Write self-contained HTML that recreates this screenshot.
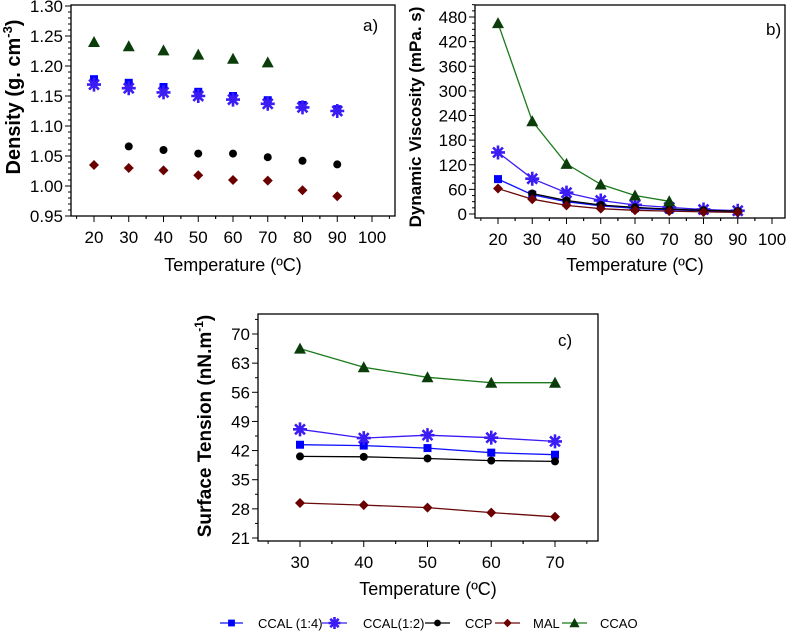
<!DOCTYPE html>
<html><head><meta charset="utf-8"><style>
html,body{margin:0;padding:0;background:#fff;}
svg{display:block;font-family:"Liberation Sans",Arial,sans-serif;}
</style></head><body>
<svg id="fig" width="798" height="633" viewBox="0 0 798 633" xmlns="http://www.w3.org/2000/svg"></svg>
<script>
// ---------- Data ----------
const seriesNames = ["CCAL (1:4)", "CCAL(1:2)", "CCP", "MAL", "CCAO"];
const tempsAB = [20, 30, 40, 50, 60, 70, 80, 90];
const tempsC = [30, 40, 50, 60, 70];
// panel a: density
const densCCAL14 = [1.178, 1.172, 1.165, 1.157, 1.150, 1.143, 1.135, 1.128];
const densCCAL12 = [1.169, 1.163, 1.156, 1.150, 1.144, 1.137, 1.131, 1.125];
const densCCP = [null, 1.066, 1.060, 1.054, 1.054, 1.048, 1.042, 1.036];
const densMAL = [1.035, 1.030, 1.026, 1.018, 1.010, 1.009, 0.993, 0.983];
const densCCAO = [1.240, 1.233, 1.226, 1.219, 1.212, 1.206, null, null];
// panel b: viscosity
const viscCCAL14 = [85, 47, 30, 20, 14, 10, 8, 6];
const viscCCAL12 = [150, 86, 52, 33, 22, 16, 11, 8];
const viscCCP = [null, 50, 33, 22, 16, 12, 9, 7];
const viscMAL = [62, 36, 21, 13, 9, 7, 5, 4];
const viscCCAO = [465, 226, 122, 72, 45, 31, null, null];
// panel c: surface tension
const stCCAL14 = [43.4, 43.2, 42.6, 41.5, 41.0];
const stCCAL12 = [47.1, 45.0, 45.7, 45.1, 44.2];
const stCCP = [40.6, 40.5, 40.1, 39.6, 39.4];
const stMAL = [29.4, 28.9, 28.3, 27.1, 26.1];
const stCCAO = [66.5, 62.0, 59.6, 58.3, 58.3];
// ticks
const xTicksAB = [20, 30, 40, 50, 60, 70, 80, 90, 100];
const yTicksA = [0.95, 1.00, 1.05, 1.10, 1.15, 1.20, 1.25, 1.30];
const yTicksB = [0, 60, 120, 180, 240, 300, 360, 420, 480];
const xTicksC = [30, 40, 50, 60, 70];
const yTicksC = [21, 28, 35, 42, 49, 56, 63, 70];

const colors = ["#0000ff", "#3b1cf5", "#000000", "#6b0000", "#0b3d0b"];
const lineColors = ["#1010ff", "#3b1cf5", "#000000", "#6b0a0a", "#1b7a1b"];
const markers = ["square", "asterisk", "circle", "diamond", "triangle"];

const NS = "http://www.w3.org/2000/svg";
const svg = document.getElementById("fig");
function mk(tag, attrs, parent) {
  const e = document.createElementNS(NS, tag);
  for (const k in attrs) e.setAttribute(k, attrs[k]);
  (parent || svg).appendChild(e);
  return e;
}
function marker(type, cx, cy, color, g, sc) {
  sc = sc || 1;
  let e;
  if (type === "square") e = mk("rect", {x: cx - 4*sc, y: cy - 4*sc, width: 8*sc, height: 8*sc, fill: color}, g);
  else if (type === "circle") e = mk("circle", {cx, cy, r: 4*sc, fill: color}, g);
  else if (type === "diamond") e = mk("polygon", {points: `${cx},${cy-5*sc} ${cx+5*sc},${cy} ${cx},${cy+5*sc} ${cx-5*sc},${cy}`, fill: color}, g);
  else if (type === "triangle") e = mk("polygon", {points: `${cx},${cy-6*sc} ${cx+6*sc},${cy+5*sc} ${cx-6*sc},${cy+5*sc}`, fill: color}, g);
  else {
    let d = "";
    for (let i = 0; i < 4; i++) {
      const a = i * Math.PI / 4;
      const dx = 7*sc * Math.cos(a), dy = 7*sc * Math.sin(a);
      d += `M${cx-dx},${cy-dy}L${cx+dx},${cy+dy}`;
    }
    e = mk("path", {d, stroke: color, "stroke-width": 2.6, fill: "none"}, g);
  }
  return e;
}

function panel(cfg) {
  const g = mk("g", {});
  
  
  const sx = v => cfg.x0 + (v - cfg.xmin) / (cfg.xmax - cfg.xmin) * (cfg.x1 - cfg.x0);
  const sy = v => cfg.y0 + (v - cfg.ymin) / (cfg.ymax - cfg.ymin) * (cfg.y1 - cfg.y0);
  const frame = mk("rect", {x: cfg.L, y: cfg.T, width: cfg.R - cfg.L, height: cfg.B - cfg.T, fill: "none", stroke: "#000", "stroke-width": 1.3}, g);
  
  
  const yAxis = mk("g", {}, g);
  
  
  const ystep = cfg.yticks[1] - cfg.yticks[0];
  for (let i = 0; i < cfg.yticks.length; i++) {
    const v = cfg.yticks[i], y = sy(v);
    mk("line", {x1: cfg.L - 6, x2: cfg.L, y1: y, y2: y, stroke: "#000"}, yAxis);
    const t = mk("text", {x: cfg.L - 8, y: y + 6, "text-anchor": "end", "font-size": 17}, yAxis);
    t.textContent = cfg.yfmt(v);
    for (let m = 1; m < cfg.yminor; m++) {
      const ym = sy(v + m * ystep / cfg.yminor);
      if (ym < cfg.T - 0.5) continue;
      mk("line", {x1: cfg.L - 3, x2: cfg.L, y1: ym, y2: ym, stroke: "#000"}, yAxis);
    }
  }
  const xAxis = mk("g", {}, g);
  
  
  const xstep = cfg.xticks[1] - cfg.xticks[0];
  for (let i = 0; i < cfg.xticks.length; i++) {
    const v = cfg.xticks[i], x = sx(v);
    mk("line", {x1: x, x2: x, y1: cfg.B, y2: cfg.B + 6, stroke: "#000"}, xAxis);
    const t = mk("text", {x: x, y: cfg.B + 27, "text-anchor": "middle", "font-size": 17}, xAxis);
    t.textContent = v;
    for (const m of [-0.5, 0.5]) {
      const xm = sx(v + m * xstep);
      if (xm < cfg.L || xm > cfg.R) continue;
      mk("line", {x1: xm, x2: xm, y1: cfg.B, y2: cfg.B + 3, stroke: "#000"}, xAxis);
    }
  }
  const xt = mk("text", {x: cfg.xtitleX, y: cfg.xtitleY, "text-anchor": "middle", "font-size": 18}, g);
  xt.textContent = "Temperature (ºC)";
  
  
  const yt = mk("text", {x: 0, y: 0, "text-anchor": "middle", "font-size": cfg.ytitleSize, "font-weight": "bold", transform: `translate(${cfg.ytitleX},${cfg.ytitleY}) rotate(-90)`}, g);
  yt.innerHTML = cfg.ytitle;
  
  
  const lab = mk("text", {x: cfg.labX, y: cfg.labY, "font-size": 17}, g);
  lab.textContent = cfg.label;
  
  
  for (let s = 0; s < cfg.series.length; s++) {
    const sg = mk("g", {}, g);
    
    
    const vals = cfg.series[s];
    const pts = [];
    for (let i = 0; i < vals.length; i++) if (vals[i] !== null) pts.push([sx(cfg.xs[i]), sy(vals[i])]);
    if (cfg.lines) {
      const d = pts.map((p, i) => (i ? "L" : "M") + p[0].toFixed(1) + "," + p[1].toFixed(1)).join("");
      const ln = mk("path", {d, fill: "none", stroke: lineColors[s], "stroke-width": 1.3}, sg);
      
      
    }
    for (const p of pts) {
      const m = marker(markers[s], p[0], p[1], colors[s], sg);
      
      
    }
  }
}

panel({name: "panel-a-density", L: 71, R: 395, T: 5, B: 216,
  xmin: 20, xmax: 100, x0: 94, x1: 372, ymin: 0.95, ymax: 1.30, y0: 216, y1: 6,
  xticks: xTicksAB, yticks: yTicksA, yminor: 5, yfmt: v => v.toFixed(2),
  xs: tempsAB, series: [densCCAL14, densCCAL12, densCCP, densMAL, densCCAO], lines: false,
  ytitle: 'Density (g. cm<tspan dy="-8" font-size="13">-3</tspan><tspan dy="8">)</tspan>', ytitleX: 20, ytitleY: 97, ytitleSize: 20,
  xtitleX: 233, xtitleY: 271, label: "a)", labX: 363, labY: 31});

panel({name: "panel-b-viscosity", L: 475, R: 785, T: 5, B: 218,
  xmin: 20, xmax: 100, x0: 498, x1: 772, ymin: 0, ymax: 480, y0: 214, y1: 17,
  xticks: xTicksAB, yticks: yTicksB, yminor: 4, yfmt: v => String(v),
  xs: tempsAB, series: [viscCCAL14, viscCCAL12, viscCCP, viscMAL, viscCCAO], lines: true,
  ytitle: 'Dynamic Viscosity (mPa. s)', ytitleX: 421, ytitleY: 117, ytitleSize: 17,
  xtitleX: 635, xtitleY: 271, label: "b)", labX: 766, labY: 35});

panel({name: "panel-c-surface-tension", L: 258, R: 598, T: 314, B: 541,
  xmin: 30, xmax: 70, x0: 300, x1: 555, ymin: 21, ymax: 70, y0: 538, y1: 334,
  xticks: xTicksC, yticks: yTicksC, yminor: 2, yfmt: v => String(v),
  xs: tempsC, series: [stCCAL14, stCCAL12, stCCP, stMAL, stCCAO], lines: true,
  ytitle: 'Surface Tension (nN.m<tspan dy="-8" font-size="12">-1</tspan><tspan dy="8">)</tspan>', ytitleX: 211, ytitleY: 426, ytitleSize: 19,
  xtitleX: 428, xtitleY: 595, label: "c)", labX: 558, labY: 346});

// legend
const legendLineX = [[220, 243], [322, 347], [425, 450], [495, 520], [562, 587]];
const legendTextX = [258, 363, 465, 533, 600];
const lg = mk("g", {});


for (let s = 0; s < seriesNames.length; s++) {
  const eg = mk("g", {}, lg);
  
  
  const y = 623;
  mk("line", {x1: legendLineX[s][0], x2: legendLineX[s][1], y1: y, y2: y, stroke: lineColors[s], "stroke-width": 1.3}, eg);
  marker(markers[s], (legendLineX[s][0] + legendLineX[s][1]) / 2, y, colors[s], eg, 0.85);
  const t = mk("text", {x: legendTextX[s], y: y + 5, "font-size": 13}, eg);
  t.textContent = seriesNames[s];
}
</script>
</body></html>
